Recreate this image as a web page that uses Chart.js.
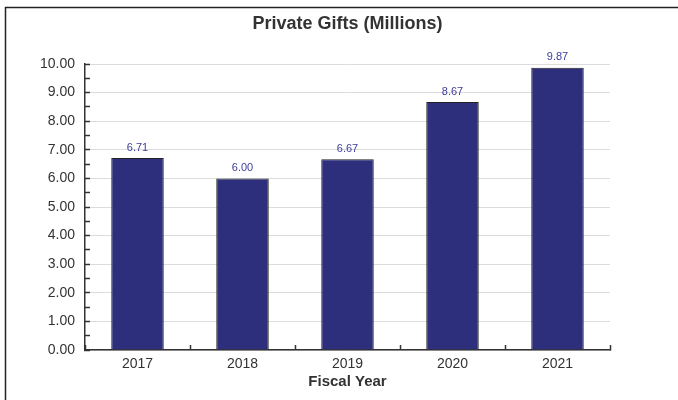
<!DOCTYPE html>
<html>
<head>
<meta charset="utf-8">
<script src="https://cdn.jsdelivr.net/npm/chart.js@4/dist/chart.umd.min.js"></script>
<style>
  html, body { margin: 0; padding: 0; background: #fff; }
</style>
</head>
<body>
<canvas id="giftsChart" width="678" height="400"></canvas>
<script>
const chartTitle = "Private Gifts (Millions)";
const axisTitle = "Fiscal Year";
const years = ["2017", "2018", "2019", "2020", "2021"];
const gifts = [6.71, 6.00, 6.67, 8.67, 9.87];
const yMin = 0;
const yMax = 10;

const FONT = "'Liberation Sans', Arial, sans-serif";

// white background, frame lines on the left and top, and the title over the plot
const framePlugin = {
    id: "frame",
    beforeDraw(chart) {
        const ctx = chart.ctx;
        const area = chart.chartArea;
        ctx.save();
        ctx.fillStyle = "#fff";
        ctx.fillRect(0, 0, chart.width, chart.height);
        ctx.strokeStyle = "#222";
        ctx.lineWidth = 1.5;
        ctx.beginPath();
        ctx.moveTo(5.5, chart.height);
        ctx.lineTo(5.5, 7.5);
        ctx.lineTo(chart.width, 7.5);
        ctx.stroke();

        ctx.font = "bold 18px " + FONT;
        ctx.fillStyle = "#333";
        ctx.textAlign = "center";
        ctx.textBaseline = "middle";
        ctx.fillText(chartTitle, (area.left + area.right) / 2, 24);
        ctx.restore();
    }
};

// value above each bar
const valueLabels = {
    id: "valueLabels",
    afterDatasetsDraw(chart) {
        const ctx = chart.ctx;
        const meta = chart.getDatasetMeta(0);
        ctx.save();
        ctx.font = "11px " + FONT;
        ctx.fillStyle = "#3d3d9c";
        ctx.textAlign = "center";
        ctx.textBaseline = "middle";
        meta.data.forEach(function (bar, i) {
            ctx.fillText(gifts[i].toFixed(2), bar.x, bar.y - 10.5);
        });
        ctx.restore();
    }
};

const ctx = document.getElementById("giftsChart").getContext("2d");
new Chart(ctx, {
    type: "bar",
    data: {
        labels: years,
        datasets: [{
            label: "Private Gifts",
            data: gifts,
            backgroundColor: "rgb(45, 46, 124)",
            borderColor: "#222",
            borderWidth: 1,
            barPercentage: 0.5,
            categoryPercentage: 1.0
        }]
    },
    options: {
        responsive: false,
        animation: false,
        layout: { padding: { left: 0, right: 68, top: 64, bottom: 0 } },
        plugins: {
            legend: { display: false },
            tooltip: { enabled: false },
            title: { display: false }
        },
        scales: {
            x: {
                offset: true,
                grid: {
                    offset: true,
                    drawOnChartArea: false,
                    tickLength: -5,
                    tickColor: "#333",
                    tickWidth: 1.5
                },
                border: { color: "#333", width: 1.5 },
                ticks: {
                    color: "#333",
                    padding: 11,
                    font: { family: FONT, size: 14 }
                },
                title: {
                    display: true,
                    text: axisTitle,
                    color: "#333",
                    font: { family: FONT, size: 15, weight: "bold" },
                    padding: { top: 0, bottom: 9 }
                },
                afterFit(scale) { scale.height = 50; }
            },
            y: {
                min: yMin,
                max: yMax,
                grid: {
                    color: function (c) {
                        return Number.isInteger(c.tick.value) ? "#dcdcdc" : "rgba(0,0,0,0)";
                    },
                    tickColor: "#333",
                    tickLength: -5,
                    tickWidth: 1.5
                },
                border: { color: "#333", width: 1.5 },
                ticks: {
                    stepSize: 0.5,
                    autoSkip: false,
                    color: "#333",
                    padding: 15,
                    font: { family: FONT, size: 14 },
                    callback: function (v) {
                        return Number.isInteger(v) ? v.toFixed(2) : "";
                    }
                },
                afterFit(scale) { scale.width = 85; }
            }
        }
    },
    plugins: [framePlugin, valueLabels]
});
</script>
</body>
</html>
